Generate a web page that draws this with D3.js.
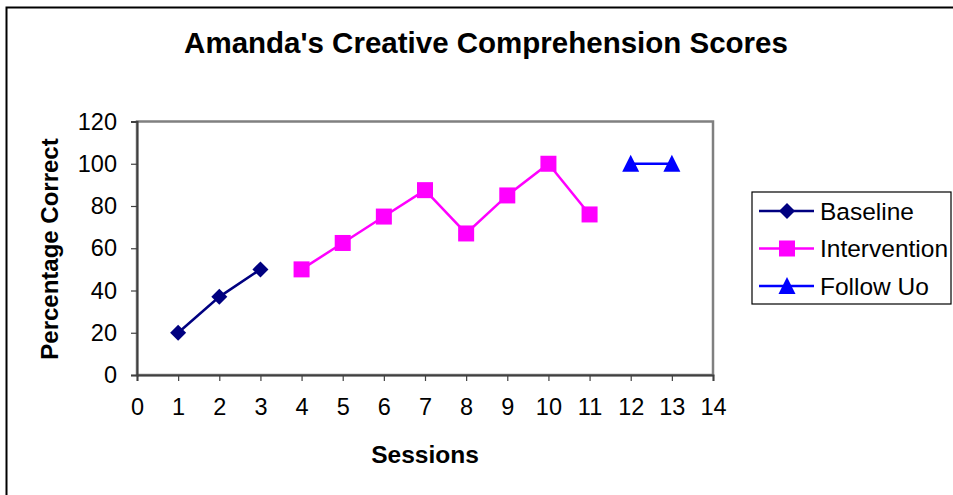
<!DOCTYPE html>
<html><head><meta charset="utf-8">
<script src="https://cdn.jsdelivr.net/npm/d3@7"></script>
<style>html,body{margin:0;padding:0;background:#fff;}svg{display:block;font-family:"Liberation Sans",Arial,sans-serif;}</style>
</head><body>
<svg id="c" width="953" height="495"></svg>
<script>
const title = "Amanda's Creative Comprehension Scores";
const xLabel = "Sessions";
const yLabel = "Percentage Correct";
const xTicks = [0,1,2,3,4,5,6,7,8,9,10,11,12,13,14];
const yTicks = [0,20,40,60,80,100,120];
const baselineX = [1,2,3];
const baselineY = [20,37,50];
const interventionX = [4,5,6,7,8,9,10,11];
const interventionY = [50,62.5,75,87.5,67,85,100,76];
const followX = [12,13];
const followY = [100,100];
const seriesNames = ["Baseline","Intervention","Follow Uo"];
const seriesColors = ["#000080","#FF00FF","#0000FF"];
const seriesShapes = ["diamond","square","triangle"];

const svg = d3.select("#c");
svg.append("rect").attr("x",6.5).attr("y",7.5).attr("width",960).attr("height",500)
  .attr("fill","none").attr("stroke","#000").attr("stroke-width",2);

const L=137, R=713, T=121.5, B=375;
const x = d3.scaleLinear().domain([0,14]).range([L,R]);
const y = d3.scaleLinear().domain([0,120]).range([B,T]);

svg.append("rect").attr("x",L).attr("y",T).attr("width",R-L).attr("height",B-T)
  .attr("fill","none").attr("stroke","#808080").attr("stroke-width",2.5);

const xa = svg.append("g").attr("transform",`translate(0,${B})`)
  .call(d3.axisBottom(x).tickValues(xTicks).tickSize(6).tickPadding(17).tickFormat(d3.format("d")));
const ya = svg.append("g").attr("transform",`translate(${L},0)`)
  .call(d3.axisLeft(y).tickValues(yTicks).tickSize(6).tickPadding(14).tickFormat(d3.format("d")));
[xa,ya].forEach(g=>{
  g.select(".domain").attr("stroke","#404040").attr("stroke-width",2);
  g.selectAll(".tick line").attr("stroke","#404040").attr("stroke-width",1.2);
  g.selectAll(".tick text").attr("font-size",23.5).attr("fill","#000").attr("font-family","Liberation Sans, Arial, sans-serif");
});
xa.selectAll(".tick text").attr("dy","0.71em");

svg.append("text").attr("x",486).attr("y",53).attr("text-anchor","middle")
  .attr("font-size",29.5).attr("font-weight","bold").text(title);
svg.append("text").attr("x",425).attr("y",463).attr("text-anchor","middle")
  .attr("font-size",24.5).attr("font-weight","bold").text(xLabel);
svg.append("text").attr("transform","translate(58,249) rotate(-90)").attr("text-anchor","middle")
  .attr("font-size",24).attr("font-weight","bold").text(yLabel);

function marker(g, shape, cx, cy, color){
  if(shape==="diamond"){
    g.append("path").attr("d",`M${cx},${cy-8}L${cx+8},${cy}L${cx},${cy+8}L${cx-8},${cy}Z`).attr("fill",color);
  } else if(shape==="square"){
    g.append("rect").attr("x",cx-8).attr("y",cy-8).attr("width",16).attr("height",16).attr("fill",color);
  } else {
    g.append("path").attr("d",`M${cx},${cy-9}L${cx+8.5},${cy+8}L${cx-8.5},${cy+8}Z`).attr("fill",color);
  }
}

const series = [[baselineX,baselineY],[interventionX,interventionY],[followX,followY]];
const line = d3.line().x(d=>x(d[0])).y(d=>y(d[1]));
series.forEach((s,i)=>{
  const pts = s[0].map((v,j)=>[v,s[1][j]]);
  const g = svg.append("g");
  g.append("path").attr("d",line(pts)).attr("fill","none").attr("stroke",seriesColors[i]).attr("stroke-width",2.5);
  pts.forEach(p=>marker(g,seriesShapes[i],x(p[0]),y(p[1]),seriesColors[i]));
});

svg.append("rect").attr("x",752).attr("y",192).attr("width",199).attr("height",112)
  .attr("fill","#fff").attr("stroke","#000").attr("stroke-width",1.2);
seriesNames.forEach((n,i)=>{
  const ly = 211 + i*37.5;
  const g = svg.append("g");
  g.append("line").attr("x1",759).attr("x2",814).attr("y1",ly).attr("y2",ly).attr("stroke",seriesColors[i]).attr("stroke-width",2.5);
  marker(g,seriesShapes[i],787,ly,seriesColors[i]);
  g.append("text").attr("x",820).attr("y",ly+8.5).attr("font-size",24.5).text(n);
});
</script>
</body></html>
